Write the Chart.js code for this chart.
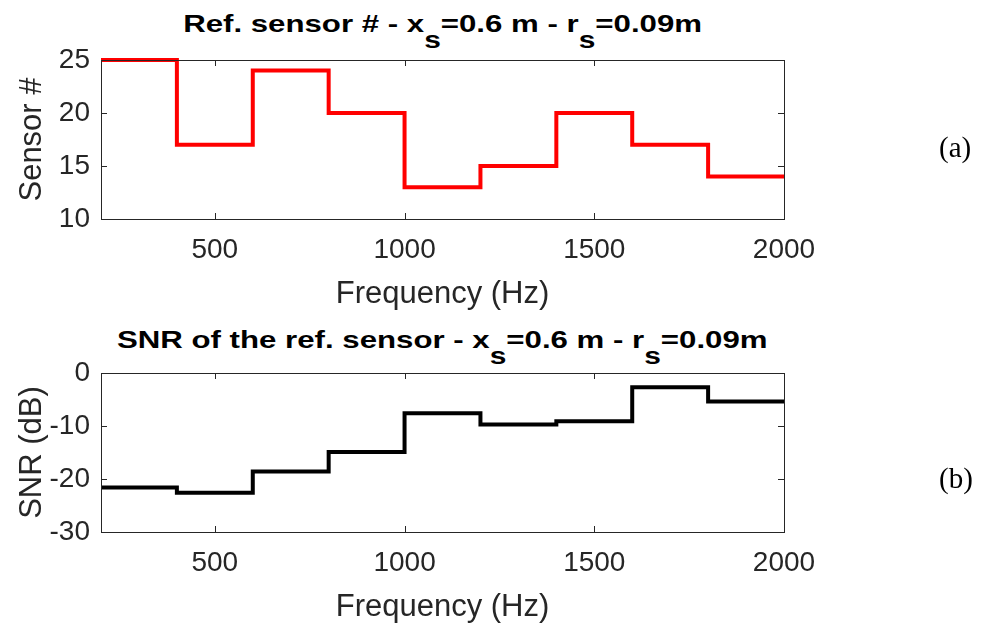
<!DOCTYPE html>
<html>
<head>
<meta charset="utf-8">
<script src="https://cdn.jsdelivr.net/npm/chart.js@4"></script>
<style>
  body { margin: 0; background: #fff; }
  #wrap { position: relative; width: 982px; height: 628px; overflow: hidden; }
  canvas { position: absolute; left: 0; }
  .ttl {
    position: absolute; left: 0; width: 885px; text-align: center;
    font: bold 24px "Liberation Sans", Arial, sans-serif; color: #000; line-height: 24px;
  }
  .ttl span.in { display: inline-block; transform: scaleX(1.3); white-space: nowrap; }
  .ttl sub { position: relative; top: 16px; font-size: 23px; vertical-align: baseline; }
  .tag { position: absolute; left: 939px; font: 29px "Liberation Serif", "Times New Roman", serif; color: #000; line-height: 32px; }
</style>
</head>
<body>
<div id="wrap">
  <div class="ttl" style="top:12px"><span class="in">Ref. sensor # - x<sub>s</sub>=0.6 m - r<sub>s</sub>=0.09m</span></div>
  <canvas id="c1" width="982" height="314" style="top:0"></canvas>
  <div class="tag" style="top:131px">(a)</div>

  <div class="ttl" style="top:328px"><span class="in">SNR of the ref. sensor - x<sub>s</sub>=0.6 m - r<sub>s</sub>=0.09m</span></div>
  <canvas id="c2" width="982" height="314" style="top:313px"></canvas>
  <div class="tag" style="top:462px">(b)</div>
</div>
<script>
// band start frequencies (Hz), last edge at 2000
const bandStart = [200, 400, 600, 800, 1000, 1200, 1400, 1600, 1800]
const bandEnd = 2000
const freqTicks = [500, 1000, 1500, 2000]
// reference sensor number per band
const refSensor = [25, 17, 24, 20, 13, 15, 20, 17, 14]
const sensorTicks = [10, 15, 20, 25]
// SNR of the reference sensor per band (dB)
const snrDb = [-21.6, -22.6, -18.6, -14.9, -7.6, -9.7, -9.1, -2.7, -5.4]
const snrTicks = [-30, -20, -10, 0]

const axisColor = '#262626'
const tickFont = { family: '"Liberation Sans", Arial, sans-serif', size: 28 }
const labelFont = { family: '"Liberation Sans", Arial, sans-serif', size: 31 }

function stairs(values) {
  const pts = bandStart.map((f, i) => ({ x: f, y: values[i] }))
  pts.push({ x: bandEnd, y: values[values.length - 1] })
  return pts
}

// matlab style box with inward ticks on all four sides
const boxPlugin = {
  id: 'box',
  afterDraw(chart) {
    const { ctx, chartArea: a, scales } = chart
    ctx.save()
    ctx.strokeStyle = axisColor
    ctx.lineWidth = 1
    ctx.strokeRect(a.left + 0.5, a.top + 0.5, a.right - a.left, a.bottom - a.top)
    const len = 6
    ctx.beginPath()
    scales.x.ticks.forEach(t => {
      const px = Math.round(scales.x.getPixelForValue(t.value)) + 0.5
      ctx.moveTo(px, a.bottom); ctx.lineTo(px, a.bottom - len)
      ctx.moveTo(px, a.top); ctx.lineTo(px, a.top + len)
    })
    scales.y.ticks.forEach(t => {
      const py = Math.round(scales.y.getPixelForValue(t.value)) + 0.5
      ctx.moveTo(a.left, py); ctx.lineTo(a.left + len, py)
      ctx.moveTo(a.right, py); ctx.lineTo(a.right - len, py)
    })
    ctx.stroke()
    ctx.restore()
  }
}

function makeChart(id, values, color, yMin, yMax, yTicks, yTitle) {
  return new Chart(document.getElementById(id), {
    type: 'line',
    data: {
      datasets: [{
        data: stairs(values),
        borderColor: color,
        borderWidth: 4,
        pointRadius: 0,
        stepped: true,
        fill: false,
        clip: false
      }]
    },
    options: {
      responsive: false,
      animation: false,
      layout: { padding: { left: 0, right: 198, top: 60, bottom: 0 } },
      plugins: { legend: { display: false }, tooltip: { enabled: false } },
      scales: {
        x: {
          type: 'linear', min: 200, max: 2000,
          grid: { display: false, drawTicks: false },
          border: { display: false },
          afterBuildTicks(s) { s.ticks = freqTicks.map(v => ({ value: v })) },
          ticks: { autoSkip: false, color: axisColor, font: tickFont, padding: 14, maxRotation: 0, callback: v => String(v) },
          title: { display: true, text: 'Frequency (Hz)', color: axisColor, font: labelFont, padding: { top: 0, bottom: 1 } },
          afterFit(s) { s.height = 95 }
        },
        y: {
          min: yMin, max: yMax,
          grid: { display: false, drawTicks: false },
          border: { display: false },
          afterBuildTicks(s) { s.ticks = yTicks.map(v => ({ value: v })) },
          ticks: { autoSkip: false, color: axisColor, font: tickFont, padding: 11, callback: v => String(v) },
          title: { display: true, text: yTitle, color: axisColor, font: labelFont, padding: { top: 14, bottom: 0 } },
          afterFit(s) { s.width = 101 }
        }
      }
    },
    plugins: [boxPlugin]
  })
}

makeChart('c1', refSensor, '#ff0000', 10, 25, sensorTicks, 'Sensor #')
makeChart('c2', snrDb, '#000000', -30, 0, snrTicks, 'SNR (dB)')
</script>
</body>
</html>
